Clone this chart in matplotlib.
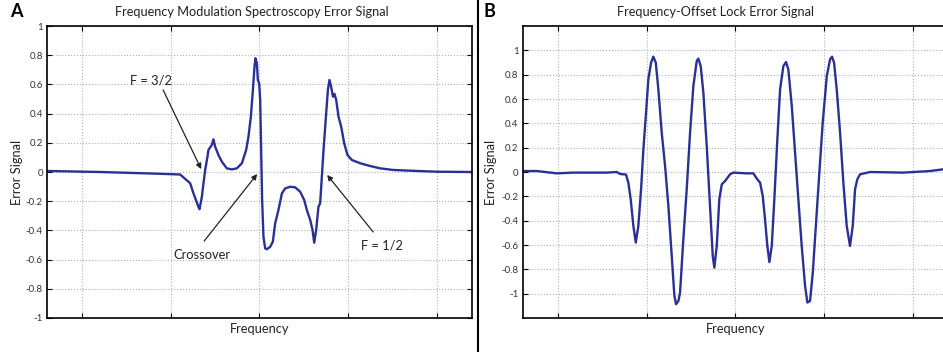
import numpy as np
import matplotlib
matplotlib.use('Agg')
import matplotlib.pyplot as plt
from matplotlib.ticker import FuncFormatter, MultipleLocator, FixedLocator

plt.rcParams['font.family'] = ['Lato', 'DejaVu Sans']
plt.rcParams['axes.unicode_minus'] = False

# Panel A: frequency modulation spectroscopy error signal
fm_x = [-2.394, -1.796, -1.232, -0.894, -0.781, -0.744, -0.688, -0.676, -0.649, -0.631,
        -0.612, -0.586, -0.575, -0.556, -0.537, -0.519, -0.499, -0.462, -0.424, -0.368,
        -0.311, -0.255, -0.198, -0.150, -0.124, -0.097, -0.074, -0.056, -0.045, -0.029,
        -0.018, -0.003, 0.008, 0.019, 0.030, 0.045, 0.064, 0.083, 0.121, 0.151,
        0.177, 0.214, 0.253, 0.290, 0.346, 0.402, 0.459, 0.504, 0.534, 0.572,
        0.598, 0.617, 0.639, 0.665, 0.684, 0.703, 0.722, 0.749, 0.771, 0.789,
        0.808, 0.828, 0.846, 0.865, 0.891, 0.921, 0.955, 0.992, 1.042, 1.135,
        1.248, 1.361, 1.507, 1.699, 2.003, 2.387]
fm_y = [0.007, 0.000, -0.010, -0.017, -0.077, -0.146, -0.238, -0.255, -0.169, -0.077,
        0.014, 0.105, 0.151, 0.169, 0.185, 0.224, 0.173, 0.116, 0.071, 0.025,
        0.018, 0.025, 0.060, 0.151, 0.242, 0.379, 0.562, 0.721, 0.779, 0.745,
        0.630, 0.608, 0.493, 0.151, -0.192, -0.443, -0.523, -0.529, -0.512, -0.477,
        -0.351, -0.260, -0.146, -0.112, -0.101, -0.105, -0.135, -0.192, -0.260, -0.329,
        -0.397, -0.484, -0.397, -0.238, -0.214, -0.032, 0.151, 0.379, 0.562, 0.630,
        0.584, 0.516, 0.534, 0.493, 0.379, 0.310, 0.197, 0.116, 0.082, 0.060,
        0.041, 0.025, 0.014, 0.009, 0.002, 0.000]

# Panel B: frequency-offset lock error signal
fol_x = [-2.400, -2.242, -2.016, -1.828, -1.451, -1.339, -1.301, -1.234, -1.208, -1.181,
         -1.151, -1.124, -1.095, -1.064, -1.038, -1.008, -0.982, -0.951, -0.926, -0.898,
         -0.869, -0.831, -0.793, -0.756, -0.718, -0.688, -0.669, -0.643, -0.624, -0.587,
         -0.549, -0.511, -0.474, -0.436, -0.418, -0.391, -0.361, -0.323, -0.286, -0.255,
         -0.237, -0.210, -0.181, -0.153, -0.116, -0.060, -0.023, 0.129, 0.203, 0.248,
         0.279, 0.309, 0.335, 0.361, 0.384, 0.411, 0.440, 0.474, 0.505, 0.542,
         0.572, 0.598, 0.637, 0.674, 0.711, 0.749, 0.787, 0.813, 0.843, 0.874,
         0.911, 0.948, 0.986, 1.032, 1.069, 1.091, 1.114, 1.144, 1.182, 1.219,
         1.257, 1.294, 1.325, 1.351, 1.377, 1.407, 1.520, 1.896, 2.197, 2.344]
fol_y = [0.008, 0.008, -0.011, -0.005, -0.005, 0.000, -0.016, -0.021, -0.087, -0.224,
         -0.444, -0.580, -0.444, -0.142, 0.187, 0.488, 0.762, 0.899, 0.948, 0.899,
         0.680, 0.324, 0.049, -0.279, -0.690, -1.019, -1.087, -1.060, -0.991, -0.553,
         -0.142, 0.324, 0.707, 0.912, 0.932, 0.871, 0.652, 0.214, -0.279, -0.690,
         -0.786, -0.608, -0.224, -0.101, -0.074, -0.019, -0.005, -0.011, -0.011, -0.060,
         -0.087, -0.197, -0.389, -0.608, -0.740, -0.608, -0.224, 0.269, 0.680, 0.871,
         0.904, 0.844, 0.542, 0.159, -0.224, -0.608, -0.937, -1.073, -1.060, -0.827,
         -0.416, -0.005, 0.406, 0.789, 0.926, 0.948, 0.899, 0.680, 0.324, -0.087,
         -0.444, -0.608, -0.444, -0.142, -0.060, -0.019, 0.000, -0.005, 0.008, 0.022]

yticks = [-1, -0.8, -0.6, -0.4, -0.2, 0, 0.2, 0.4, 0.6, 0.8, 1]

line_color = '#2b3192'

fig = plt.figure(figsize=(9.43, 3.52), dpi=100)
axA = fig.add_axes([0.0498, 0.0966, 0.4507, 0.8295])
axB = fig.add_axes([0.5543, 0.0966, 0.4510, 0.8295])

def style(ax, ylim, xlim):
    ax.set_xlim(*xlim)
    ax.set_ylim(*ylim)
    ax.xaxis.set_major_locator(MultipleLocator(1))
    ax.yaxis.set_major_locator(FixedLocator(yticks))
    ax.yaxis.set_major_formatter(FuncFormatter(lambda v, p: '%g' % round(v, 2)))
    ax.tick_params(direction='in', top=True, right=True, length=3.5, width=0.8,
                   labelsize=7, labelcolor='#333333', pad=3)
    ax.tick_params(axis='x', labelbottom=False)
    ax.grid(True, linestyle=':', color='#b0b0b0', linewidth=0.8)
    for s in ax.spines.values():
        s.set_linewidth(1.2)
    ax.set_xlabel('Frequency', fontsize=9.3, color='#222222')
    ax.set_ylabel('Error Signal', fontsize=9.3, color='#222222')

style(axA, (-1, 1), (-2.395, 2.395))
style(axB, (-1.2, 1.2), (-2.4, 2.4))

axA.plot(fm_x, fm_y, color=line_color, linewidth=1.7)
axB.plot(fol_x, fol_y, color=line_color, linewidth=1.7)

for ax, lx in ((axA, -0.0706), (axB, -0.0745)):
    ax.xaxis.set_label_coords(0.5, -0.038)
    ax.xaxis.label.set_va('center')
    ax.yaxis.set_label_coords(lx, 0.5)
    ax.yaxis.label.set_va('center')

arrow = dict(arrowstyle='-|>', color='#222222', lw=0.9, mutation_scale=8,
             shrinkA=0, shrinkB=0)
txt = dict(fontsize=9.3, ha='center', va='center', color='#222222')
axA.text(-1.22, 0.63, 'F = 3/2', **txt)
axA.annotate('', xy=(-0.657, 0.02), xytext=(-1.086, 0.562), arrowprops=arrow)
axA.text(-0.65, -0.57, 'Crossover', **txt)
axA.annotate('', xy=(-0.026, -0.014), xytext=(-0.623, -0.473), arrowprops=arrow)
axA.text(1.378, -0.50, 'F = 1/2', **txt)
axA.annotate('', xy=(0.763, -0.02), xytext=(1.282, -0.411), arrowprops=arrow)

fig.text(0.2667, 0.966, 'Frequency Modulation Spectroscopy Error Signal',
         ha='center', va='center', fontsize=9.2, color='#222222')
fig.text(0.759, 0.966, 'Frequency-Offset Lock Error Signal',
         ha='center', va='center', fontsize=9.2, color='#222222')
fig.text(0.017, 0.966, 'A', ha='center', va='center', fontsize=13, fontweight='bold')
fig.text(0.519, 0.966, 'B', ha='center', va='center', fontsize=13, fontweight='bold')

fig.add_artist(plt.Line2D([0.507, 0.507], [0, 1], color='black', linewidth=1.5))

fig.savefig('out.png', dpi=100)
